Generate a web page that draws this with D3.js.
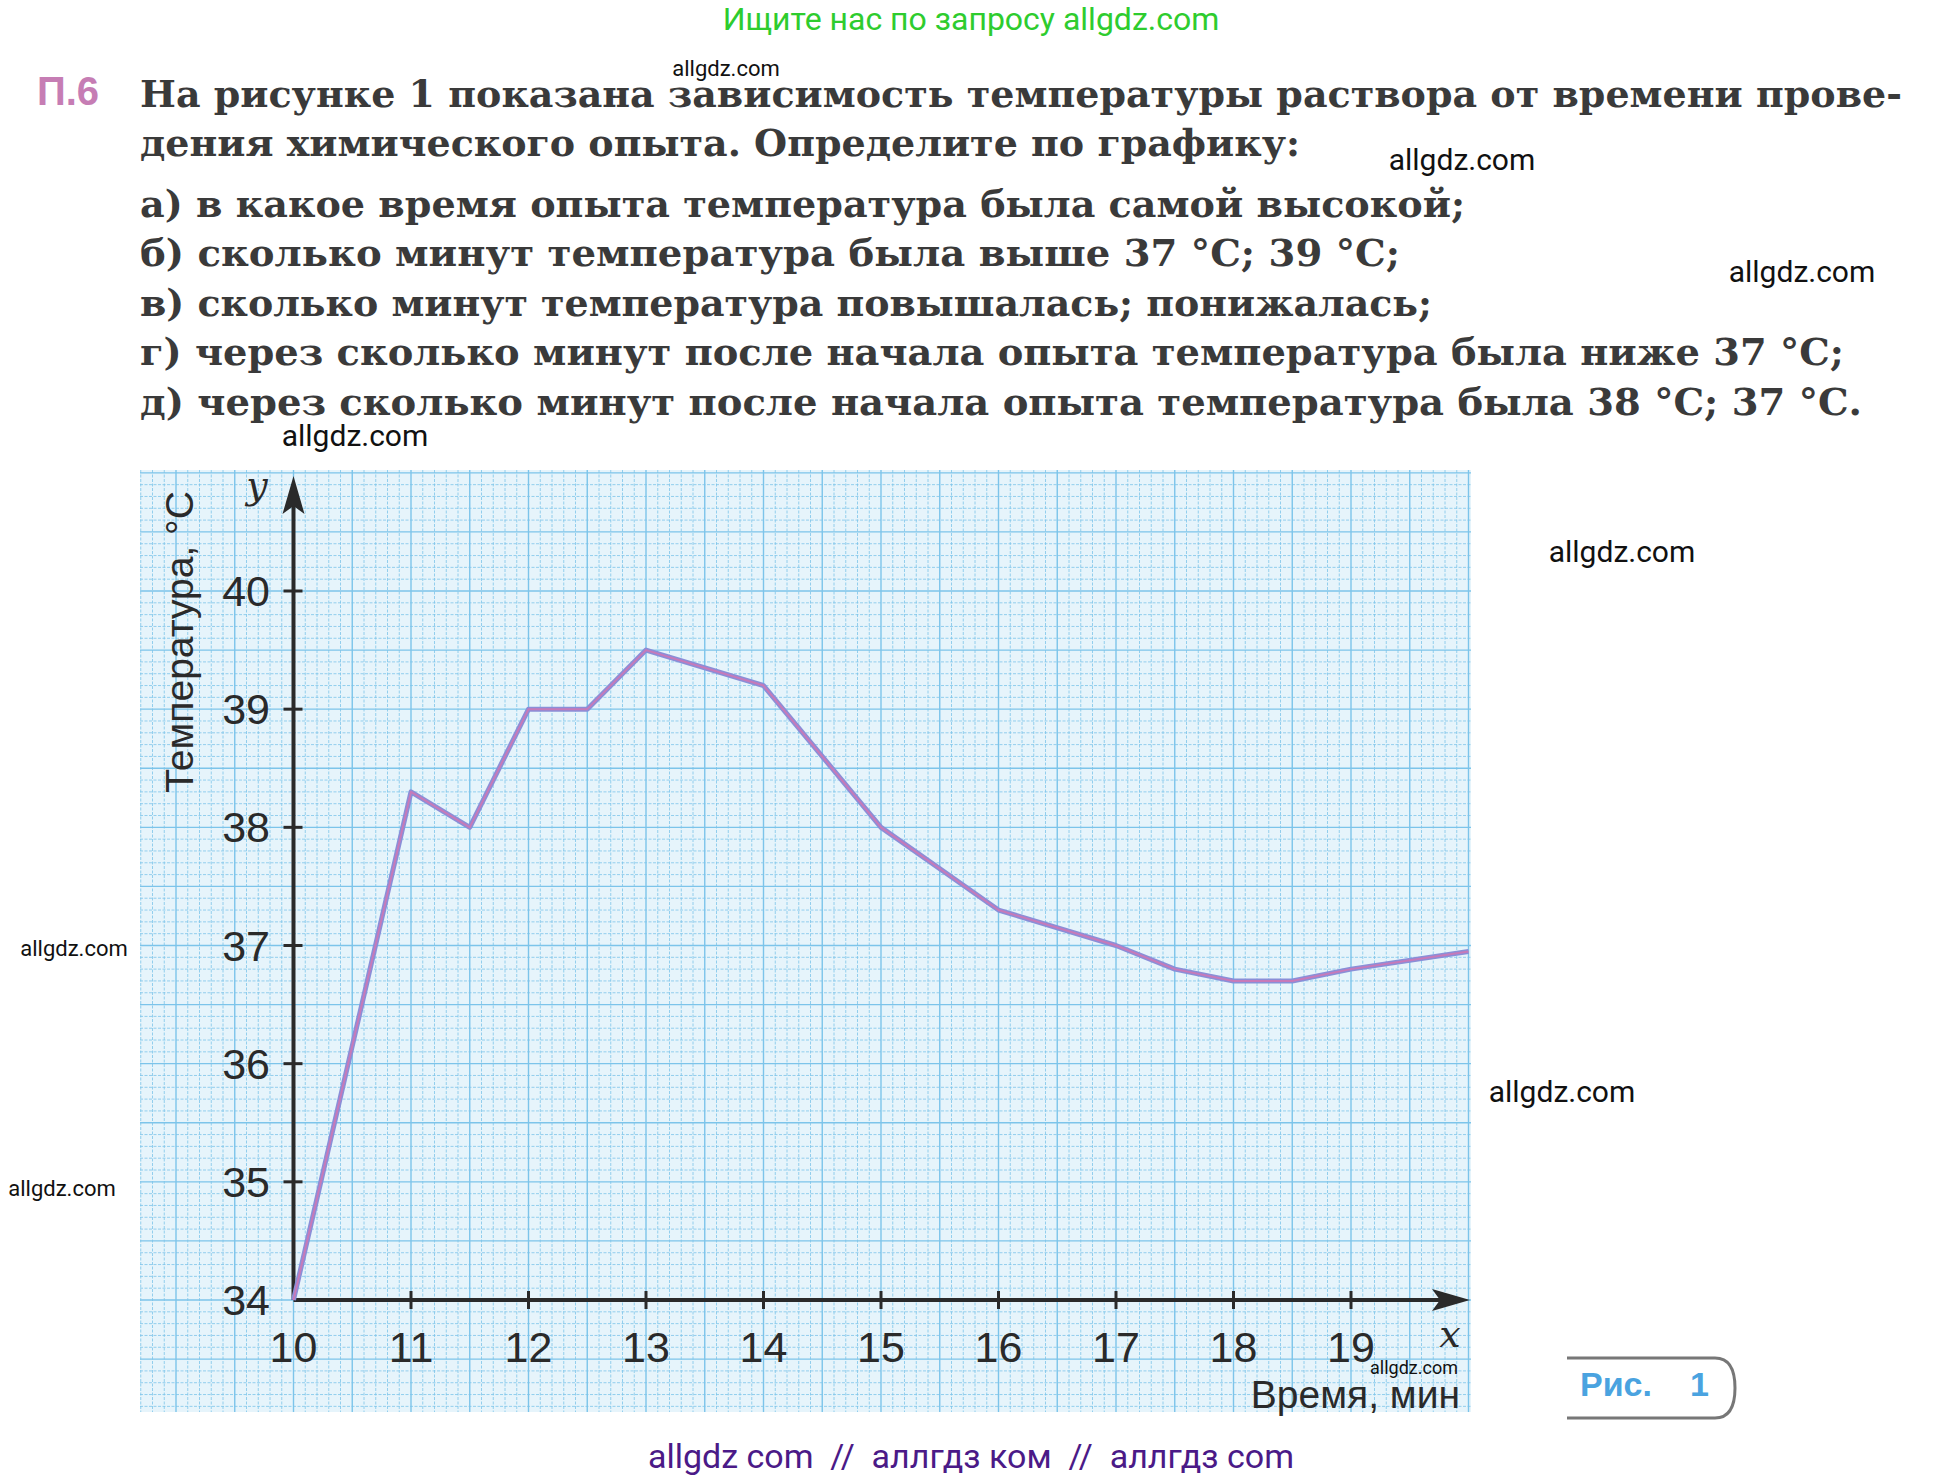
<!DOCTYPE html>
<html><head><meta charset="utf-8">
<script src="https://cdn.jsdelivr.net/npm/d3@7"></script>
<style>body{margin:0;background:#fff}</style>
</head><body>
<svg id="chart" width="1942" height="1482"></svg>
<script>
// data
var times = [10, 11, 11.5, 12, 12.5, 13, 14, 15, 16, 17, 17.5, 18, 18.5, 19, 20];
var temps = [34, 38.3, 38, 39, 39, 39.5, 39.2, 38, 37.3, 37, 36.8, 36.7, 36.7, 36.8, 36.95];
var xTicks = [10, 11, 12, 13, 14, 15, 16, 17, 18, 19];
var yTicks = [34, 35, 36, 37, 38, 39, 40];
var taskLines = [
  "дения химического опыта. Определите по графику:",
  "а) в какое время опыта температура была самой высокой;",
  "б) сколько минут температура была выше 37 °С; 39 °С;",
  "в) сколько минут температура повышалась; понижалась;",
  "г) через сколько минут после начала опыта температура была ниже 37 °С;",
  "д) через сколько минут после начала опыта температура была 38 °С; 37 °С."
];

var svg = d3.select("#chart");
var x = d3.scaleLinear().domain([10, 20]).range([293.5, 1468.5]);
var y = d3.scaleLinear().domain([34, 40]).range([1300, 591]);

// header
svg.append("text").attr("x", 971).attr("y", 30).attr("text-anchor", "middle")
  .attr("font-family", "Roboto").attr("font-size", 32).attr("fill", "#2ecc2e")
  .text("Ищите нас по запросу allgdz.com");

svg.append("text").attr("x", 37).attr("y", 105).attr("font-family", "Liberation Sans")
  .attr("font-weight", "bold").attr("font-size", 40).attr("fill", "#c67db4").text("П.6");

var serif = "DejaVu Serif";
function taskText(t, yy, len) {
  svg.append("text").attr("x", 140).attr("y", yy).attr("font-family", serif)
    .attr("font-size", 37).attr("font-weight", "bold").attr("fill", "#3a3a3a")
    .attr("textLength", len).attr("lengthAdjust", "spacingAndGlyphs").text(t);
}
taskText("На рисунке 1 показана зависимость температуры раствора от времени прове-", 107, 1762);
var lineY = [156, 217, 266, 316, 365, 415];
var lineW = [1160, 1325, 1260, 1292, 1704, 1722];
taskLines.forEach(function(t, i) { taskText(t, lineY[i], lineW[i]); });

// grid paper
var gx0 = 140, gx1 = 1471, gy0 = 470, gy1 = 1412;
svg.append("rect").attr("x", gx0).attr("y", gy0).attr("width", gx1 - gx0).attr("height", gy1 - gy0)
  .attr("fill", "#e6f4fb");
var grid = svg.append("g");
for (var v = 10 - 13 * 0.1; x(v) <= gx1 + 0.5; v += 0.1) {
  var px = x(v); if (px < gx0 - 0.5) continue;
  var k = Math.round((v - 10) * 10);
  grid.append("line").attr("x1", px).attr("x2", px).attr("y1", gy0).attr("y2", gy1)
    .attr("stroke", "#7cc4ea").attr("stroke-width", k % 5 === 0 ? 1.4 : 0.8)
    .attr("stroke-dasharray", k % 5 === 0 ? null : "3,1.5");
}
for (var w = 34 - 11 * 0.1; y(w) >= gy0 - 0.5; w += 0.1) {
  var py = y(w); if (py > gy1 + 0.5) continue;
  var m = Math.round((w - 34) * 10);
  grid.append("line").attr("x1", gx0).attr("x2", gx1).attr("y1", py).attr("y2", py)
    .attr("stroke", "#7cc4ea").attr("stroke-width", m % 5 === 0 ? 1.4 : 0.8)
    .attr("stroke-dasharray", m % 5 === 0 ? null : "3,1.5");
}

// axes
var ax = svg.append("g").attr("stroke", "#2a2a2a");
ax.append("line").attr("x1", x(10)).attr("x2", 1455).attr("y1", y(34)).attr("y2", y(34)).attr("stroke-width", 4);
ax.append("line").attr("x1", x(10)).attr("x2", x(10)).attr("y1", y(34)).attr("y2", 495).attr("stroke-width", 4);
svg.append("path").attr("d", "M1470," + y(34) + " l-38,-11 l8,11 l-8,11 z").attr("fill", "#2a2a2a");
svg.append("path").attr("d", "M" + x(10) + ",476 l-11,38 l11,-8 l11,8 z").attr("fill", "#2a2a2a");

xTicks.slice(1).forEach(function(t) {
  ax.append("line").attr("x1", x(t)).attr("x2", x(t)).attr("y1", y(34) - 9).attr("y2", y(34) + 9).attr("stroke-width", 3);
});
yTicks.slice(1).forEach(function(t) {
  ax.append("line").attr("x1", x(10) - 10).attr("x2", x(10) + 9).attr("y1", y(t)).attr("y2", y(t)).attr("stroke-width", 3);
});

var sans = "Liberation Sans";
svg.selectAll(".xl").data(xTicks).enter().append("text")
  .attr("x", function(d) { return x(d); }).attr("y", 1362).attr("text-anchor", "middle")
  .attr("font-family", sans).attr("font-size", 43).attr("fill", "#2a2a2a").text(function(d) { return d; });
svg.selectAll(".yl").data(yTicks).enter().append("text")
  .attr("x", 270).attr("y", function(d) { return y(d) + 15; }).attr("text-anchor", "end")
  .attr("font-family", sans).attr("font-size", 43).attr("fill", "#2a2a2a").text(function(d) { return d; });

svg.append("text").attr("transform", "translate(193,642) rotate(-90)").attr("text-anchor", "middle")
  .attr("font-family", sans).attr("font-size", 39).attr("fill", "#2a2a2a").text("Температура, °С");
svg.append("text").attr("x", 1460).attr("y", 1408).attr("text-anchor", "end")
  .attr("font-family", sans).attr("font-size", 39).attr("fill", "#2a2a2a").text("Время, мин");
svg.append("text").attr("x", 1450).attr("y", 1347).attr("text-anchor", "middle").attr("font-style", "italic")
  .attr("font-family", serif).attr("font-size", 38).attr("fill", "#2a2a2a").text("x");
svg.append("text").attr("x", 257).attr("y", 498).attr("text-anchor", "middle").attr("font-style", "italic")
  .attr("font-family", serif).attr("font-size", 38).attr("fill", "#2a2a2a").text("y");

// the curve
var line = d3.line().x(function(d) { return x(d[0]); }).y(function(d) { return y(d[1]); });
var pts = d3.zip(times, temps);
svg.append("path").datum(pts).attr("d", line).attr("fill", "none")
  .attr("stroke", "#8a8fd8").attr("stroke-width", 5).attr("stroke-linejoin", "round");
svg.append("path").datum(pts).attr("d", line).attr("fill", "none")
  .attr("stroke", "#c77ab9").attr("stroke-width", 2).attr("stroke-linejoin", "round");

// figure caption
svg.append("path").attr("d", "M1567,1358 H1715 Q1735,1358 1735,1388 Q1735,1418 1715,1418 H1567")
  .attr("fill", "none").attr("stroke", "#777").attr("stroke-width", 3);
svg.append("text").attr("x", 1580).attr("y", 1396).attr("font-family", sans).attr("font-weight", "bold")
  .attr("font-size", 34).attr("fill", "#4aa3e0").text("Рис.");
svg.append("text").attr("x", 1690).attr("y", 1396).attr("font-family", sans).attr("font-weight", "bold")
  .attr("font-size", 34).attr("fill", "#4aa3e0").text("1");

// watermarks
var marks = [[726, 76, 22], [1462, 170, 30], [1802, 282, 30], [355, 446, 30], [1622, 562, 30],
  [74, 956, 22], [62, 1196, 22], [1562, 1102, 30], [1414, 1374, 18]];
marks.forEach(function(mk) {
  svg.append("text").attr("x", mk[0]).attr("y", mk[1]).attr("text-anchor", "middle")
    .attr("font-family", "Roboto").attr("font-size", mk[2]).attr("fill", "#111").text("allgdz.com");
});
svg.append("text").attr("x", 971).attr("y", 1468).attr("text-anchor", "middle")
  .attr("font-family", "Roboto").attr("font-size", 34).attr("fill", "#4b1a87")
  .attr("xml:space", "preserve").text("allgdz com  //  аллгдз ком  //  аллгдз com");
</script>
</body></html>
